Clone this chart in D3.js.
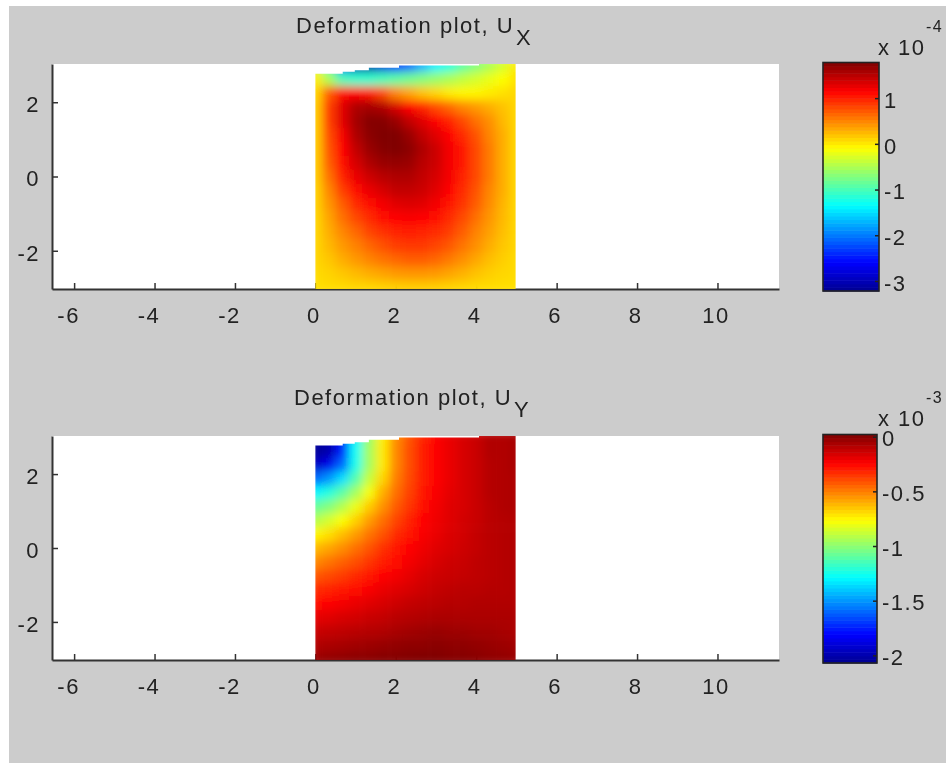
<!DOCTYPE html>
<html><head><meta charset="utf-8">
<script src="https://cdn.jsdelivr.net/npm/d3@7"></script>
<style>html,body{margin:0;padding:0;background:#fff}svg{display:block}
text{font-family:"Liberation Sans",Arial,sans-serif;fill:#222;letter-spacing:1.5px}</style></head>
<body><div id="chart"></div>
<script>
const xTicks = [-6,-4,-2,0,2,4,6,8,10];
const yTicks = [-2,0,2];
const titleText = "Deformation plot, U";
const barTicksX = [1,0,-1,-2,-3];
const barLabelsX = ["1","0","-1","-2","-3"];
const barTicksY = [0,-0.5,-1,-1.5,-2];
const barLabelsY = ["0","-0.5","-1","-1.5","-2"];
const jetStops = ["#00008f","#0000ff","#00ffff","#ffff00","#ff0000","#800000"];
const jetPositions = [0,0.125,0.375,0.625,0.875,1];
const topEdgeX = [0,0.68,0.98,1.33,2.08,4.07,4.98];
const topEdgeY = [2.77,2.82,2.86,2.93,2.99,3.03,3.03];
const gridX = [0,1/3,2/3,1,4/3,5/3,2,7/3,8/3,3,10/3,11/3,4,13/3,14/3,5];
const gridY = [3,2.625,2.25,1.875,1.5,1.125,0.75,0.375,0,-0.375,-0.75,-1.125,-1.5,-1.875,-2.25,-2.625,-3];
const valuesUx = [
[-0.3,-1.0,-2.2,-3.0,-3.1,-2.8,-2.5,-2.1,-1.7,-1.4,-1.2,-0.9,-0.7,-0.5,-0.3,0.0],
[0.0,-0.5,-1.0,-1.1,-1.1,-1.0,-0.9,-0.8,-0.7,-0.6,-0.5,-0.4,-0.3,-0.2,-0.1,0.05],
[0.1,0.7,1.1,1.15,1.05,0.8,0.5,0.35,0.2,0.1,0.0,-0.05,-0.05,0.0,0.05,0.1],
[0.15,0.85,1.3,1.55,1.6,1.55,1.35,1.15,1.0,0.8,0.65,0.5,0.4,0.3,0.2,0.1],
[0.15,0.85,1.3,1.6,1.75,1.75,1.65,1.45,1.3,1.15,1.0,0.8,0.6,0.45,0.25,0.1],
[0.15,0.8,1.2,1.55,1.72,1.78,1.78,1.65,1.45,1.3,1.15,0.95,0.75,0.5,0.3,0.1],
[0.15,0.75,1.15,1.45,1.65,1.75,1.78,1.72,1.55,1.4,1.2,1.05,0.8,0.55,0.3,0.1],
[0.15,0.7,1.1,1.35,1.55,1.65,1.68,1.65,1.5,1.4,1.2,1.05,0.8,0.55,0.3,0.1],
[0.15,0.6,1.0,1.25,1.4,1.5,1.55,1.55,1.45,1.35,1.2,1.0,0.8,0.55,0.3,0.1],
[0.12,0.5,0.85,1.1,1.25,1.35,1.45,1.45,1.4,1.3,1.15,0.95,0.75,0.5,0.3,0.1],
[0.12,0.42,0.7,0.95,1.1,1.2,1.3,1.32,1.3,1.2,1.05,0.9,0.7,0.47,0.27,0.1],
[0.1,0.35,0.6,0.8,0.95,1.08,1.15,1.18,1.15,1.08,0.95,0.8,0.6,0.42,0.25,0.1],
[0.1,0.3,0.5,0.65,0.82,0.92,1.0,1.02,1.0,0.95,0.85,0.7,0.52,0.37,0.22,0.1],
[0.1,0.25,0.4,0.52,0.65,0.76,0.85,0.88,0.88,0.82,0.72,0.58,0.45,0.3,0.18,0.1],
[0.1,0.18,0.3,0.4,0.5,0.58,0.65,0.7,0.7,0.65,0.55,0.45,0.33,0.22,0.14,0.08],
[0.08,0.12,0.18,0.24,0.3,0.35,0.4,0.42,0.42,0.4,0.34,0.28,0.2,0.14,0.1,0.08],
[0.05,0.07,0.08,0.1,0.1,0.12,0.14,0.15,0.15,0.14,0.12,0.1,0.08,0.07,0.06,0.05]];
const valuesUy = [
[-2.05,-2.0,-1.8,-1.3,-0.97,-0.73,-0.53,-0.41,-0.31,-0.24,-0.2,-0.16,-0.13,-0.08,-0.08,-0.06],
[-2.05,-2.0,-1.75,-1.27,-0.95,-0.72,-0.52,-0.4,-0.3,-0.24,-0.2,-0.16,-0.13,-0.08,-0.08,-0.06],
[-1.95,-1.85,-1.6,-1.25,-0.95,-0.72,-0.52,-0.4,-0.3,-0.24,-0.2,-0.16,-0.13,-0.09,-0.08,-0.06],
[-1.6,-1.5,-1.35,-1.12,-0.88,-0.68,-0.5,-0.39,-0.3,-0.24,-0.2,-0.16,-0.13,-0.09,-0.08,-0.07],
[-1.3,-1.22,-1.1,-0.95,-0.78,-0.6,-0.47,-0.37,-0.29,-0.23,-0.19,-0.16,-0.13,-0.09,-0.08,-0.07],
[-1.08,-1.02,-0.92,-0.8,-0.66,-0.54,-0.43,-0.35,-0.27,-0.22,-0.18,-0.16,-0.13,-0.1,-0.08,-0.07],
[-0.92,-0.85,-0.77,-0.67,-0.56,-0.47,-0.38,-0.31,-0.25,-0.21,-0.18,-0.15,-0.13,-0.1,-0.09,-0.08],
[-0.75,-0.7,-0.63,-0.56,-0.48,-0.41,-0.33,-0.28,-0.23,-0.2,-0.17,-0.15,-0.12,-0.1,-0.09,-0.08],
[-0.62,-0.58,-0.53,-0.47,-0.41,-0.34,-0.29,-0.25,-0.21,-0.18,-0.16,-0.14,-0.12,-0.1,-0.09,-0.08],
[-0.52,-0.48,-0.44,-0.4,-0.35,-0.3,-0.26,-0.22,-0.19,-0.16,-0.14,-0.13,-0.11,-0.1,-0.09,-0.08],
[-0.42,-0.39,-0.36,-0.32,-0.29,-0.25,-0.22,-0.19,-0.16,-0.14,-0.13,-0.12,-0.11,-0.1,-0.09,-0.08],
[-0.33,-0.31,-0.29,-0.26,-0.23,-0.2,-0.18,-0.16,-0.14,-0.12,-0.11,-0.1,-0.1,-0.09,-0.09,-0.08],
[-0.26,-0.24,-0.22,-0.2,-0.18,-0.16,-0.14,-0.12,-0.11,-0.1,-0.09,-0.09,-0.08,-0.08,-0.08,-0.08],
[-0.19,-0.18,-0.16,-0.15,-0.13,-0.12,-0.1,-0.09,-0.08,-0.07,-0.07,-0.07,-0.07,-0.07,-0.07,-0.07],
[-0.13,-0.12,-0.11,-0.1,-0.09,-0.08,-0.065,-0.05,-0.04,-0.03,-0.04,-0.04,-0.05,-0.05,-0.06,-0.07],
[-0.08,-0.07,-0.06,-0.05,-0.04,-0.03,-0.02,-0.01,-0.01,0,-0.01,-0.01,-0.02,-0.03,-0.04,-0.05],
[-0.03,-0.02,-0.01,0,0,0.01,0.01,0.015,0.02,0.02,0.01,0.01,0,-0.01,-0.02,-0.03]];

const W = 946, H = 763, FS = 22;
const svg = d3.select("#chart").append("svg").attr("width",W).attr("height",H);
svg.append("rect").attr("x",9).attr("y",6).attr("width",W-9).attr("height",H-6).attr("fill","#cccccc");
const defs = svg.append("defs");
const soft = defs.append("filter").attr("id","soft").attr("x","-5%").attr("y","-20%").attr("width","110%").attr("height","140%");
soft.append("feGaussianBlur").attr("stdDeviation",0.5);

function jetContinuous(lo,hi){
  return d3.scaleLinear().domain(jetPositions.map(p=>lo+p*(hi-lo))).range(jetStops).clamp(true);
}
function panel(o){
  const g = svg.append("g");
  const x = d3.scaleLinear().domain([-6.55,11.53]).range([52,779]);
  const y = d3.scaleLinear().domain([-3.03,3.03]).range([o.bottom,o.top]);
  g.append("rect").attr("x",x.range()[0]).attr("y",o.top).attr("width",x.range()[1]-x.range()[0]).attr("height",o.bottom-o.top).attr("fill","#fff");
  const color = jetContinuous(o.lo,o.hi);

  const ax = g.append("g").attr("transform",`translate(0,${o.bottom})`)
    .call(d3.axisBottom(x).tickValues(xTicks).tickSizeInner(-6).tickSizeOuter(0).tickPadding(18).tickFormat(d=>String(d)));
  const ay = g.append("g").attr("transform",`translate(${x.range()[0]},0)`)
    .call(d3.axisLeft(y).tickValues(yTicks).tickSizeInner(-6).tickSizeOuter(0).tickPadding(12).tickFormat(d=>String(d)));
  [ax,ay].forEach(a=>{
    a.attr("font-family",null).attr("font-size",null);
    a.selectAll("text").attr("font-size",FS).attr("fill","#222").attr("filter","url(#soft)");
    a.selectAll("line").attr("stroke","#333").attr("stroke-width",1.5);
    a.select(".domain").attr("stroke","#333").attr("stroke-width",2);
  });
  ax.selectAll("text").attr("dy","0.71em").attr("dx",d=>d<0?-6:-2);
  ay.selectAll("text").attr("dy","0.42em");

  const fid = "blur"+o.id;
  const f = defs.append("filter").attr("id",fid).attr("filterUnits","userSpaceOnUse")
    .attr("x",x(0)-2).attr("y",y(3.03)-2).attr("width",x(5)-x(0)+4).attr("height",y(-3.03)-y(3.03)+4);
  f.append("feGaussianBlur").attr("stdDeviation",5).attr("edgeMode","duplicate");
  const cid = "clip"+o.id;
  const area = d3.area().curve(d3.curveStepAfter).x((d,i)=>x(topEdgeX[i])).y0(y(-3.03)).y1(d=>y(d));
  defs.append("clipPath").attr("id",cid).append("path").attr("d",area(topEdgeY));

  const dx = gridX[1]-gridX[0], dy = gridY[0]-gridY[1];
  const cells = o.values.flatMap((row,r)=>row.map((v,c)=>({v,c,r})));
  g.append("g").attr("clip-path",`url(#${cid})`).append("g").attr("filter",`url(#${fid})`)
    .selectAll("rect").data(cells).join("rect")
    .attr("x",d=>x(gridX[d.c]-dx/2)).attr("y",d=>y(gridY[d.r]+dy/2))
    .attr("width",x(dx)-x(0)+0.6).attr("height",y(0)-y(dy)+0.6)
    .attr("fill",d=>color(d.v));

  const t = g.append("text").attr("x",o.titleX).attr("y",o.titleY).attr("font-size",FS).attr("filter","url(#soft)");
  t.append("tspan").text(titleText);
  t.append("tspan").attr("dy",12).attr("dx",2).text(o.sub);

  const by = d3.scaleLinear().domain([o.lo,o.hi]).range([o.barBottom,o.barTop]);
  const bins = d3.range(64).map(i=>o.lo+(i+0.5)/64*(o.hi-o.lo));
  const bh = (o.barBottom-o.barTop)/64;
  const b = svg.append("g");
  b.selectAll("rect").data(bins).join("rect")
    .attr("x",o.barX).attr("width",o.barW)
    .attr("y",d=>by(d)-bh/2).attr("height",bh+0.5).attr("fill",d=>color(d));
  b.append("rect").attr("x",o.barX).attr("y",o.barTop).attr("width",o.barW).attr("height",o.barBottom-o.barTop)
    .attr("fill","none").attr("stroke","#222").attr("stroke-width",1.6);
  const bAxis = svg.append("g").attr("transform",`translate(${o.barX+o.barW},0)`)
    .call(d3.axisRight(by).tickValues(o.barTicks).tickSize(-4).tickPadding(5).tickFormat((d,i)=>o.barLabels[i]));
  bAxis.select(".domain").remove();
  bAxis.attr("font-family",null).attr("font-size",null);
  bAxis.selectAll("line").attr("stroke","#222").attr("stroke-width",1.5);
  bAxis.selectAll("text").attr("font-size",FS).attr("fill","#222").attr("filter","url(#soft)").attr("dy","0.42em");

  svg.append("text").attr("x",878).attr("y",o.expY).attr("font-size",FS).attr("filter","url(#soft)").text("x 10");
  svg.append("text").attr("x",926).attr("y",o.expY-23).attr("font-size",16).attr("filter","url(#soft)").text(o.exp);
}

panel({id:"a",top:64,bottom:289,values:valuesUx,lo:-3.22,hi:1.78,sub:"X",titleX:296,titleY:33,
  barX:823,barW:56,barTop:62.5,barBottom:291,barTicks:barTicksX,barLabels:barLabelsX,expY:55,exp:"-4"});
panel({id:"b",top:436,bottom:660,values:valuesUy,lo:-2.07,hi:0.02,sub:"Y",titleX:294,titleY:405,
  barX:823,barW:54,barTop:434.5,barBottom:663,barTicks:barTicksY,barLabels:barLabelsY,expY:426,exp:"-3"});
</script></body></html>
